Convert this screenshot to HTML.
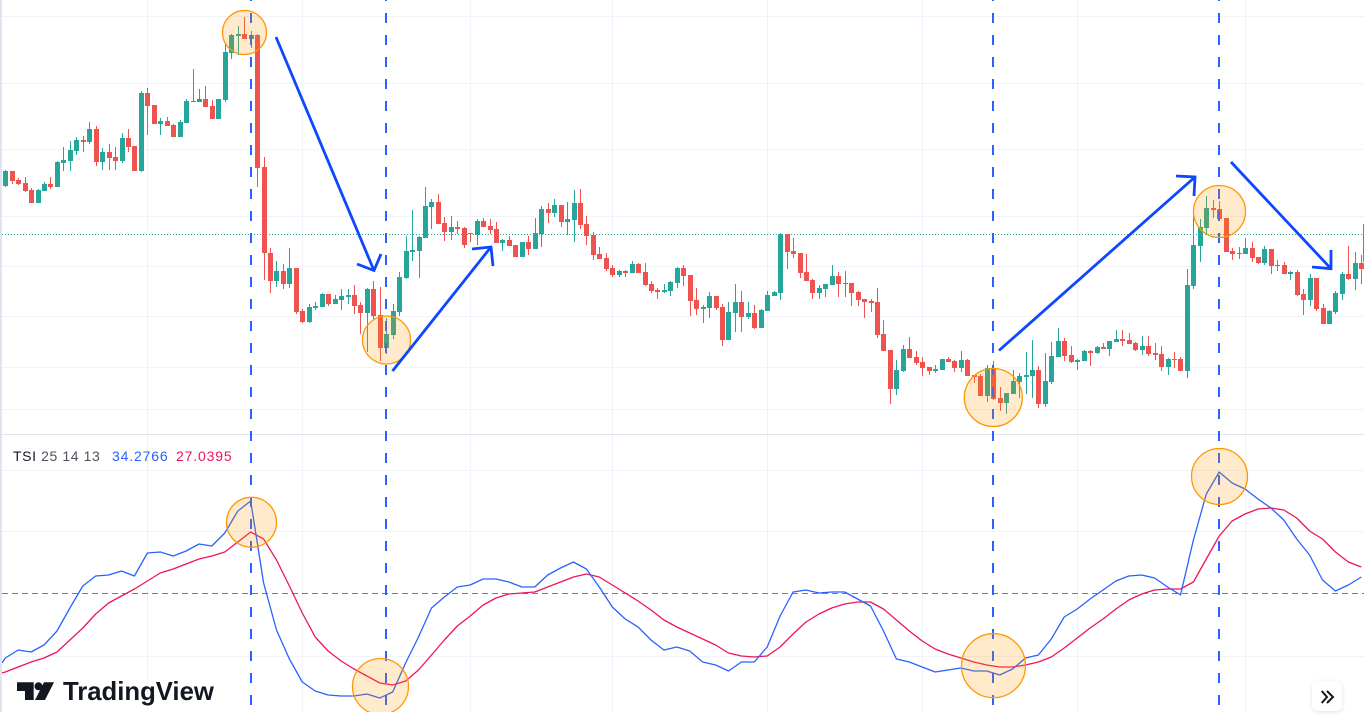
<!DOCTYPE html>
<html lang="en">
<head>
<meta charset="utf-8">
<title>TSI chart</title>
<style>
  html, body { margin: 0; padding: 0; background: #fff; }
  body { width: 1364px; height: 712px; overflow: hidden; position: relative; font-family: "Liberation Sans", sans-serif; }
  #chart { position: absolute; left: 0; top: 0; display: block; }
  .legend { position: absolute; top: 447px; font-size: 14px; line-height: 18px; letter-spacing: 0.6px; white-space: nowrap; }
  .legend.num { letter-spacing: 0.85px; }
  #expand { position: absolute; left: 1312px; top: 681px; width: 30px; height: 30px; border-radius: 5px; background: #fff; box-shadow: 0 1px 4px rgba(0,0,0,.12); }
  #logo-text { position: absolute; left: 63px; top: 677px; font-size: 25.7px; line-height: 30px; font-weight: bold; color: #131722; white-space: nowrap; }
</style>
</head>
<body>
<svg id="chart" width="1364" height="712" viewBox="0 0 1364 712" xmlns="http://www.w3.org/2000/svg">
  <g id="grid"></g>
  <g id="candles" shape-rendering="crispEdges"></g>
  <line x1="2" y1="434.5" x2="1364" y2="434.5" stroke="#e0e3eb" stroke-width="1"/>
  <g id="tsi-lines"></g>
  <g fill="none" stroke="#2962ff" stroke-width="2" stroke-dasharray="10 12">
    <line x1="251" y1="-9" x2="251" y2="712"/>
    <line x1="386" y1="-9" x2="386" y2="712"/>
    <line x1="993" y1="-9" x2="993" y2="712"/>
    <line x1="1219" y1="-9" x2="1219" y2="712"/>
  </g>
  <g fill="rgba(255,152,0,0.2)" stroke="#ff9800" stroke-width="1.3">
    <circle cx="244.5" cy="32.5" r="22"/>
    <circle cx="386.5" cy="340" r="24"/>
    <circle cx="993.3" cy="397.5" r="29"/>
    <circle cx="1219.5" cy="211.5" r="26"/>
    <circle cx="251.5" cy="522.3" r="25"/>
    <circle cx="380.5" cy="686.5" r="28"/>
    <circle cx="993.5" cy="665.7" r="32"/>
    <circle cx="1219.5" cy="476.5" r="28"/>
  </g>
  <g fill="none" stroke="#0d47ff" stroke-width="2.8">
    <path d="M276 37L374 270.5M357 264L374 270.5L381 254"/>
    <path d="M392.5 371L491 247M472 249L491 247L493 266"/>
    <path d="M999 350.5L1195 177M1176 176L1195 177L1194 196"/>
    <path d="M1231 162L1331 268.7M1312 267L1331 268.7L1331 250"/>
  </g>
  <rect x="0" y="0" width="2" height="712" fill="#e0e3f0"/>
  <g fill="#131722">
    <polygon points="17,682.3 33.7,682.3 33.7,700 25,700 25,691 17,691"/>
    <circle cx="38.5" cy="686.3" r="4"/>
    <polygon points="54,682.3 45,700 35,700 44,682.3"/>
  </g>
</svg>

<div class="legend" style="left:13px;color:#131722">TSI <span style="color:#50535e">25 14 13</span></div>
<div class="legend num" style="left:112px;color:#2962ff">34.2766</div>
<div class="legend num" style="left:176px;color:#f0145a">27.0395</div>
<div id="logo-text">TradingView</div>
<div id="expand">
  <svg width="30" height="30" viewBox="0 0 30 30">
    <path d="M9.7 10L15 16L9.7 22M15 10L21 16L15 22" fill="none" stroke="#131722" stroke-width="2"/>
  </svg>
</div>

<script>
const priceTicks = [418, 351, 285, 217.5, 167.5, 117.5, 66.5, 24.5];
const lastPrice = 199.5;
const timeTicks = [22, 46, 72, 94, 118, 142, 166, 192];
const tsiTicks = [123, 62, -63];
const tsiZero = [0];

const open = [
248,263,254,251,244,231,243,250,247,271,
273,283,294,292,305,272,282,277,273,296,
288,263,341,329,310,313,309,297,311,332,
332,335,328,315,334,381,398,400,395,399,
267,181,153,163,150,166,123,112,126,127,
140,130,134,137,139,129,121,145,119,86,
99,122,156,182,183,196,227,232,211,202,
207,206,201,199,213,208,205,191,194,189,
177,192,185,200,225,221,229,212,214,231,
210,199,180,176,166,159,163,161,170,162,
150,144,142,143,151,166,159,134,125,126,
138,127,94,121,132,117,121,106,123,138,
141,200,183,181,162,154,141,145,149,158,
150,151,142,135,133,132,100,84,45,63,
85,77,72,67,63,64,75,73,66,74,
59,58,38,66,36,31,40,52,57,58,
64,30,52,77,93,79,72,73,83,81,
87,85,92,95,94,91,84,88,81,80,
67,75,75,63,148,188,206,226,225,216,
183,180,180,186,177,171,185,169,169,160,
162,140,134,156,126,110,122,140,160,155,
171,172];
const high = [
264,263,256,257,246,245,252,257,273,287,
293,297,298,312,308,286,290,287,301,305,
288,343,346,329,316,317,310,314,335,365,
345,348,334,335,391,400,408,417,403,400,
277,186,173,170,186,166,125,130,132,141,
140,139,145,145,149,132,146,153,147,116,
130,162,198,224,198,247,235,240,217,218,
213,207,201,215,216,215,212,195,198,189,
192,198,216,228,231,235,229,232,244,245,
218,202,187,181,169,164,164,173,171,171,
153,146,150,153,167,169,159,146,129,142,
138,130,132,150,143,132,129,125,143,143,
201,200,196,181,180,155,149,150,169,162,
163,151,143,135,135,146,114,84,74,89,
97,83,77,67,69,75,77,74,83,75,
59,60,69,73,47,41,64,61,82,94,
68,81,92,106,96,88,75,84,84,88,
91,93,104,104,101,92,98,98,91,88,
76,82,77,165,218,215,238,234,233,216,
186,187,196,192,177,188,185,174,172,163,
164,145,160,156,130,124,143,162,188,182,
179,210];
const low = [
247,250,249,242,231,231,243,245,247,263,
263,279,282,290,268,264,264,264,271,282,
263,262,299,310,299,308,297,297,311,332,
332,327,315,315,332,375,379,395,386,247,
154,141,147,145,146,120,111,111,124,127,
128,130,124,130,120,100,82,115,73,80,
95,118,155,173,156,196,205,210,193,194,
200,186,192,189,207,200,191,183,188,177,
177,179,185,187,211,217,207,199,192,205,
189,174,175,163,157,157,157,161,161,148,
141,135,141,138,146,148,118,119,111,116,
124,88,94,102,102,115,105,106,123,138,
134,165,176,156,153,135,135,137,149,137,
137,128,128,116,122,96,83,30,39,62,
76,69,58,59,61,64,72,62,62,58,
51,38,32,34,23,20,40,36,40,36,
26,27,50,77,73,71,64,73,68,80,
85,78,92,88,90,83,79,78,74,63,
59,66,63,56,145,172,199,216,214,182,
174,175,180,172,170,169,160,163,160,154,
138,119,128,123,110,110,120,134,154,144,
150,172];
const close = [
263,253,250,243,231,244,250,247,272,274,
284,294,292,305,272,282,276,273,296,287,
263,341,328,310,313,308,297,312,333,333,
335,327,315,335,382,399,400,395,399,266,
181,153,163,150,166,122,112,127,128,140,
130,135,138,139,128,121,145,118,86,100,
123,157,183,184,197,228,232,210,202,207,
205,189,200,213,207,204,191,194,188,177,
192,185,201,225,221,229,212,215,231,209,
198,179,175,165,159,163,161,170,161,149,
143,142,144,152,166,158,133,125,127,138,
126,94,122,132,117,121,106,124,139,142,
200,182,180,161,153,141,146,150,158,150,
151,141,134,132,131,99,83,45,64,85,
76,71,66,63,65,75,72,66,74,58,
57,38,66,35,31,41,53,58,59,64,
30,53,78,93,78,72,74,83,81,87,
85,93,95,93,90,84,88,80,79,67,
75,74,63,149,189,207,226,224,215,182,
180,181,186,176,171,185,168,168,160,162,
139,134,156,125,110,123,141,160,155,171,
165,210];

const tsiLeadIn = -70;
const signalLeadIn = -80;
const tsiValues = [
-65,-57,-59,-52,-38,-15,7,17,18,22,
17,40,41,37,42,49,47,60,82,92,
10,-37,-66,-89,-98,-102,-103,-103,-101,-105,
-99,-70,-44,-15,-4,6,8,14,14,11,
6,6,18,25,31,24,6,-14,-26,-34,
-47,-57,-54,-58,-69,-72,-78,-69,-69,-54,
-23,1,3,0,1,1,-6,-13,-38,-66,
-69,-74,-79,-77,-75,-78,-78,-82,-76,-65,
-62,-46,-24,-16,-6,3,12,17,18,15,
6,-2,53,99,121,110,104,94,85,73,
54,38,13,2,8,16];
const signalValues = [
-79,-74,-69,-65,-59,-47,-35,-21,-10,-3,
4,12,20,24,29,34,37,41,51,61,
54,33,7,-20,-44,-58,-68,-76,-83,-90,
-92,-88,-77,-62,-47,-33,-23,-12,-5,-1,
0,1,6,11,16,19,16,8,0,-8,
-17,-27,-34,-40,-46,-52,-60,-63,-64,-63,
-54,-41,-29,-21,-15,-11,-9,-9,-16,-27,
-38,-48,-56,-61,-65,-69,-72,-74,-74,-72,
-69,-64,-55,-45,-35,-26,-16,-7,-1,3,
4,4,11,34,57,72,79,84,85,83,
75,62,54,41,31,26];

const SVG_NS = 'http://www.w3.org/2000/svg';
const UP = '#26a69a';
const DOWN = '#ef5350';
const GRID = '#f0f3fa';
const plotLeft = 2;
const plotRight = 1364;
const barStep = 6.457;
const barStart = 5.3;
const tsiSampleEvery = 2;
const priceBase = 434;
const tsiBase = 593;

function barX(i) {
  return Math.min(barStart + barStep * i, plotRight + 0.5);
}
function priceY(p) {
  return priceBase - p;
}
function tsiY(v) {
  return tsiBase - v;
}
function make(tag, attrs, parent) {
  const el = document.createElementNS(SVG_NS, tag);
  for (const k in attrs) el.setAttribute(k, attrs[k]);
  parent.appendChild(el);
  return el;
}

const gridLayer = document.getElementById('grid');
timeTicks.forEach(function (t) {
  const x = Math.floor(barX(t)) + 0.5;
  const el = make('line', { x1: x, x2: x, y1: 0, y2: 712, stroke: GRID, 'stroke-width': 1 }, gridLayer);
  
  
});
priceTicks.forEach(function (p) {
  const y = Math.floor(priceY(p)) + 0.5;
  const el = make('line', { x1: plotLeft, x2: plotRight, y1: y, y2: y, stroke: GRID, 'stroke-width': 1 }, gridLayer);
  
  
});
tsiTicks.forEach(function (v) {
  const y = Math.floor(tsiY(v)) + 0.5;
  const el = make('line', { x1: plotLeft, x2: plotRight, y1: y, y2: y, stroke: GRID, 'stroke-width': 1 }, gridLayer);
  
  
});
tsiZero.forEach(function (v) {
  const y = Math.floor(tsiY(v)) + 0.5;
  const el = make('line', { x1: plotLeft, x2: plotRight, y1: y, y2: y, stroke: '#787b86', 'stroke-width': 1, 'stroke-dasharray': '6 4' }, gridLayer);
  
  
});
const lastLine = make('line', { x1: plotLeft, x2: plotRight, y1: Math.floor(priceY(lastPrice)) + 0.5, y2: Math.floor(priceY(lastPrice)) + 0.5, stroke: UP, 'stroke-width': 1, 'stroke-dasharray': '1 2' }, gridLayer);



const candleLayer = document.getElementById('candles');
open.forEach(function (o, i) {
  const c = close[i];
  const color = c >= o ? UP : DOWN;
  const cx = Math.round(barX(i));
  const top = priceY(Math.max(o, c));
  const bottom = priceY(Math.min(o, c));
  const g = make('g', {}, candleLayer);
  
  
  const wick = make('rect', { x: cx, y: priceY(high[i]), width: 1, height: Math.max(1, priceY(low[i]) - priceY(high[i])), fill: color }, g);
  
  
  const body = make('rect', { x: cx - 2, y: top, width: 5, height: Math.max(1, bottom - top), fill: color }, g);
  
  
});

const lineLayer = document.getElementById('tsi-lines');
function seriesPoints(values, leadIn) {
  const start = plotLeft + ',' + tsiY(leadIn).toFixed(1) + ' ';
  return start + values.map(function (v, k) {
    return barX(k * tsiSampleEvery).toFixed(1) + ',' + tsiY(v).toFixed(1);
  }).join(' ');
}
const signalLine = make('polyline', { points: seriesPoints(signalValues, signalLeadIn), fill: 'none', stroke: '#f0145a', 'stroke-width': 1.3, 'stroke-linejoin': 'round' }, lineLayer);


const tsiLine = make('polyline', { points: seriesPoints(tsiValues, tsiLeadIn), fill: 'none', stroke: '#2962ff', 'stroke-width': 1.3, 'stroke-linejoin': 'round' }, lineLayer);


</script>
</body>
</html>
